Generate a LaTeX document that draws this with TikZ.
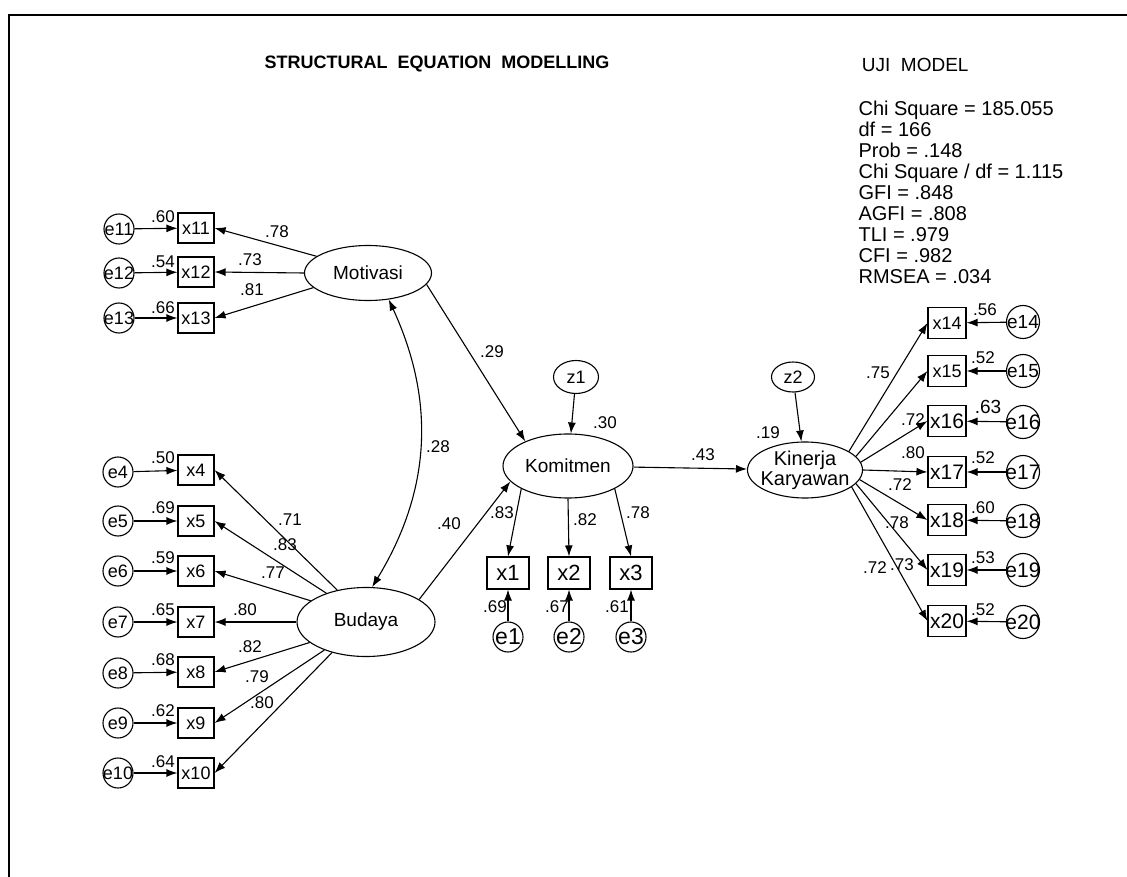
\documentclass[tikz,border=0pt]{standalone}
\usepackage{fontspec}
\setmainfont{Liberation Sans}
\usetikzlibrary{shapes.geometric,arrows.meta}
\newcommand{\fsz}[1]{\fontsize{#1}{#1}\selectfont}
\newcommand{\ov}[1]{\makebox[0pt]{#1}}

\begin{document}
\begin{tikzpicture}[x=1pt,y=-1pt,>={Latex[length=11pt,width=8pt]},line width=1.1pt,
   obs/.style={draw,rectangle,minimum width=36pt,minimum height=30pt,inner sep=0pt,font=\fsz{18}},
   obsm/.style={obs,minimum width=42pt,minimum height=32pt,font=\fsz{22}},
   obsr/.style={obs,minimum width=38pt,minimum height=31pt},
   err/.style={draw,circle,minimum size=30pt,inner sep=0pt,font=\fsz{18}},
   errr/.style={err,minimum size=33pt,font=\fsz{21}},
   lat/.style={draw,ellipse,inner sep=0pt,font=\fsz{19}},
   coef/.style={inner sep=0pt,font=\fsz{17}}]
   \useasboundingbox (0,0) rectangle (1127,877);
   %frame
   \draw[line width=2pt] (9,877) -- (9,15) -- (1127,15);
   %titles
   \node[font=\bfseries\fsz{18},anchor=base] (title) at (437,69) {STRUCTURAL~~EQUATION~~MODELLING};
   \node[font=\fsz{19},anchor=base west] (uji) at (858,72) {UJI~~MODEL};
   \foreach \t [count=\i] in {{Chi Square = 185.055},{df = 166},{Prob = .148},{Chi Square / df = 1.115},{GFI = .848},{AGFI = .808},{TLI = .979},{CFI = .982},{RMSEA = .034}}
      \node[font=\fsz{20},inner sep=0pt,anchor=base west] (fit\i) at (858,94+21.1*\i) {\t};
   %latent
   \node[lat,minimum width=127pt,minimum height=55pt] (mot) at (368,273) {Motivasi};
   \node[lat,minimum width=138pt,minimum height=69pt] (bud) at (366,622) {Budaya};
   \node[lat,minimum width=130pt,minimum height=64pt] (kom) at (568,466) {Komitmen};
   \node[lat,minimum width=115pt,minimum height=56pt,inner sep=-6pt,align=center,font=\fsz{20}] (kin) at (805,470) {Kinerja\\Karyawan};
   \node[lat,minimum width=45pt,minimum height=33pt,font=\fsz{18}] (z1) at (576,377) {z1};
   \node[lat,minimum width=43pt,minimum height=30pt,font=\fsz{18}] (z2) at (793,377) {z2};
   %indicators motivasi
   \node[obs] (x11) at (196,228) {x11};  \node[err] (e11) at (119,229) {\ov{e11}};
   \node[obs] (x12) at (196,272) {x12};  \node[err] (e12) at (119,273) {\ov{e12}};
   \node[obs] (x13) at (196,318) {x13};  \node[err] (e13) at (119,318) {\ov{e13}};
   %indicators budaya
   \node[obs] (x4) at (196,470) {x4};    \node[err] (e4) at (118,472) {\ov{e4}};
   \node[obs] (x5) at (196,521) {x5};    \node[err] (e5) at (118,521) {\ov{e5}};
   \node[obs] (x6) at (196,571) {x6};    \node[err] (e6) at (118,571) {\ov{e6}};
   \node[obs] (x7) at (196,622) {x7};    \node[err] (e7) at (118,622) {\ov{e7}};
   \node[obs] (x8) at (196,672) {x8};    \node[err] (e8) at (118,673) {\ov{e8}};
   \node[obs] (x9) at (196,723) {x9};    \node[err] (e9) at (118,723) {\ov{e9}};
   \node[obs] (x10) at (196,773) {x10};  \node[err] (e10) at (118,773) {\ov{e10}};
   %indicators komitmen
   \node[obsm] (x1) at (508,573) {x1};   \node[err,font=\fsz{23}] (e1) at (508,637) {\ov{e1}};
   \node[obsm] (x2) at (569,573) {x2};   \node[err,font=\fsz{23}] (e2) at (569,637) {\ov{e2}};
   \node[obsm] (x3) at (631,573) {x3};   \node[err,font=\fsz{23}] (e3) at (631,637) {\ov{e3}};
   %indicators kinerja
   \node[obsr] (x14) at (947,323) {x14};  \node[errr,font=\fsz{19}] (e14) at (1023,322) {\ov{e14}};
   \node[obsr] (x15) at (947,371) {x15};  \node[errr,font=\fsz{19}] (e15) at (1023,371) {\ov{e15}};
   \node[obsr,font=\fsz{21}] (x16) at (947,421) {x16};  \node[errr] (e16) at (1023,422) {\ov{e16}};
   \node[obsr,font=\fsz{21}] (x17) at (947,472) {x17};  \node[errr] (e17) at (1023,472) {\ov{e17}};
   \node[obsr,font=\fsz{21}] (x18) at (947,520) {x18};  \node[errr] (e18) at (1023,521) {\ov{e18}};
   \node[obsr,font=\fsz{21}] (x19) at (947,570) {x19};  \node[errr] (e19) at (1023,570) {\ov{e19}};
   \node[obsr,font=\fsz{21}] (x20) at (947,621) {x20};  \node[errr] (e20) at (1023,622) {\ov{e20}};
   %errors to indicators
   \draw[->] (e11) -- (x11);  \draw[->] (e12) -- (x12);  \draw[->] (e13) -- (x13);
   \draw[->] (e4) -- (x4);  \draw[->] (e5) -- (x5);  \draw[->] (e6) -- (x6);  \draw[->] (e7) -- (x7);
   \draw[->] (e8) -- (x8);  \draw[->] (e9) -- (x9);  \draw[->] (e10) -- (x10);
   \draw[->] (e1) -- (x1);  \draw[->] (e2) -- (x2);  \draw[->] (e3) -- (x3);
   \draw[->] (e14) -- (x14);  \draw[->] (e15) -- (x15);  \draw[->] (e16) -- (x16);  \draw[->] (e17) -- (x17);
   \draw[->] (e18) -- (x18);  \draw[->] (e19) -- (x19);  \draw[->] (e20) -- (x20);
   %loadings
   \draw[->] (mot.162) -- (x11.east);  \draw[->] (mot.west) -- (x12.east);  \draw[->] (mot.195) -- (x13.east);
   \draw[->] (bud.132) -- (x4.east);  \draw[->] (bud.144) -- (x5.east);  \draw[->] (bud.159) -- (x6.east);
   \draw[->] (bud.west) -- (x7.east);  \draw[->] (bud.200) -- (x8.east);  \draw[->] (bud.214) -- (x9.east);
   \draw[->] (bud.222) -- (x10.east);
   \draw[->] (kom.206) -- (x1.north);  \draw[->] (kom.south) -- (x2.north);  \draw[->] (kom.334) -- (x3.north);
   \draw[->] (kin.23) -- (x14.west);  \draw[->] (kin.15) -- (x15.west);  \draw[->] (kin.8) -- (x16.west);
   \draw[->] (kin.east) -- (x17.west);  \draw[->] (kin.350) -- (x18.west);  \draw[->] (kin.345) -- (x19.west);
   \draw[->] (kin.340) -- (x20.west);
   %structural paths
   \draw[->] (mot.349) -- (kom.150);
   \draw[->] (bud.23) -- (kom.195);
   \draw[->] (kom) -- (kin);
   \draw[->] (z1) -- (kom);
   \draw[->] (z2) -- (kin);
   \draw[<->] (mot.308) to[bend left=28] (bud.80);
   %coefficients
   \node[coef] (sq11) at (163,217) {.60};  \node[coef] (sq12) at (163,262) {.54};  \node[coef] (sq13) at (163,308) {.66};
   \node[coef] (ld11) at (277,232) {.78};  \node[coef] (ld12) at (250,260) {.73};  \node[coef] (ld13) at (252,290) {.81};
   \node[coef] (sq4) at (163,458) {.50};  \node[coef] (sq5) at (163,508) {.69};  \node[coef] (sq6) at (163,558) {.59};
   \node[coef] (sq7) at (163,610) {.65};  \node[coef] (sq8) at (163,660) {.68};  \node[coef] (sq9) at (163,711) {.62};
   \node[coef] (sq10) at (163,762) {.64};
   \node[coef] (ld4) at (290,520) {.71};  \node[coef] (ld5) at (285,545) {.83};  \node[coef] (ld6) at (273,573) {.77};
   \node[coef] (ld7) at (245,610) {.80};  \node[coef] (ld8) at (250,647) {.82};  \node[coef] (ld9) at (257,677) {.79};
   \node[coef] (ld10) at (262,703) {.80};
   \node[coef] (cov) at (438,447) {.28};  \node[coef] (pbud) at (449,524) {.40};  \node[coef] (pmot) at (492,352) {.29};
   \node[coef] (rkom) at (605,423) {.30};  \node[coef] (pkom) at (703,455) {.43};  \node[coef] (rkin) at (768,433) {.19};
   \node[coef] (ld1) at (502,513) {.83};  \node[coef] (ld2) at (585,520) {.82};  \node[coef] (ld3) at (638,513) {.78};
   \node[coef] (sq1) at (495,607) {.69};  \node[coef] (sq2) at (557,607) {.67};  \node[coef] (sq3) at (617,607) {.61};
   \node[coef] (ld14) at (878,373) {.75};  \node[coef] (ld16) at (913,420) {.72};  \node[coef] (ld17) at (913,453) {.80};
   \node[coef] (ld18) at (900,485) {.72};  \node[coef] (ld19) at (897,523) {.78};  \node[coef] (ld20) at (875,568) {.72};
   \node[coef] (ld15) at (902,565) {.73};
   \node[coef] (sq14) at (985,310) {.56};  \node[coef] (sq15) at (983,358) {.52};  \node[coef,font=\fsz{19}] (sq16) at (988,407) {.63};
   \node[coef] (sq17) at (983,458) {.52};  \node[coef] (sq18) at (983,508) {.60};  \node[coef] (sq19) at (983,558) {.53};
   \node[coef] (sq20) at (983,610) {.52};
\end{tikzpicture}
\end{document}
